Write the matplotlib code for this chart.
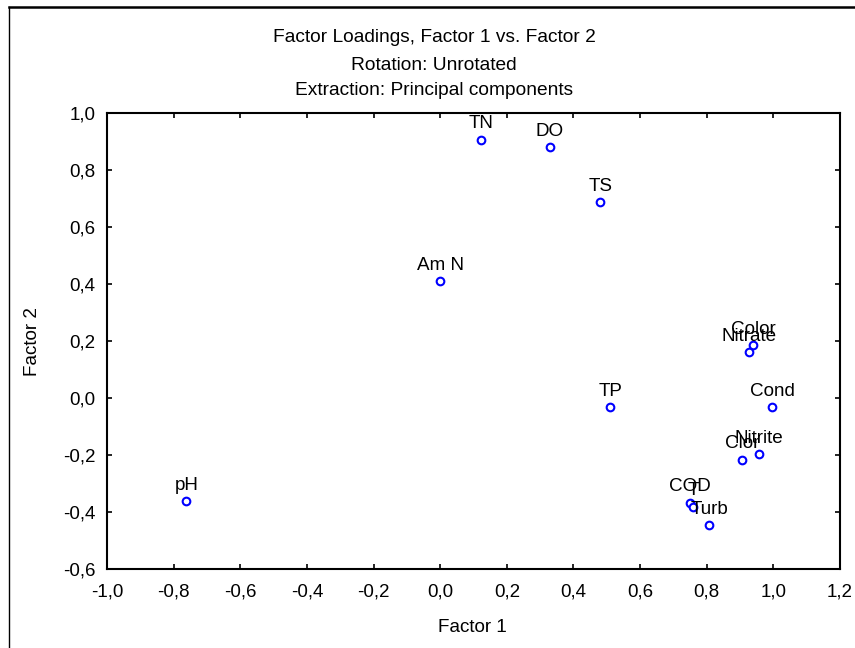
import matplotlib
matplotlib.use("Agg")
import matplotlib.pyplot as plt
from matplotlib.lines import Line2D

plt.rcParams['font.family'] = ['Liberation Sans', 'DejaVu Sans']

labels = ["TN", "DO", "TS", "Am N", "TP", "pH", "Color", "Nitrate", "Cond",
          "Nitrite", "Clor", "COD", "T", "Turb"]
factor1 = [0.124, 0.329, 0.481, 0.000, 0.510, -0.762, 0.940, 0.927, 0.996,
           0.956, 0.905, 0.750, 0.760, 0.808]
factor2 = [0.907, 0.880, 0.689, 0.411, -0.032, -0.362, 0.187, 0.160, -0.032,
           -0.196, -0.216, -0.367, -0.381, -0.446]

xticks = [-1.0, -0.8, -0.6, -0.4, -0.2, 0.0, 0.2, 0.4, 0.6, 0.8, 1.0, 1.2]
yticks = [-0.6, -0.4, -0.2, 0.0, 0.2, 0.4, 0.6, 0.8, 1.0]

W, H = 855, 648
fig = plt.figure(figsize=(W / 100, H / 100), dpi=100)
ax = fig.add_axes([107 / W, 1 - 569 / H, (840 - 107) / W, (569 - 113) / H])

ax.plot(factor1, factor2, linestyle='none', marker='o', markersize=5.5,
        markerfacecolor='white', markeredgecolor='#0000ff', markeredgewidth=1.5)
for lab, x, y in zip(labels, factor1, factor2):
    ax.annotate(lab, (x, y), xytext=(0, 8), textcoords='offset points',
                ha='center', va='baseline', fontsize=13.6, color='black')

ax.set_xlim(-1.0, 1.2)
ax.set_ylim(-0.6, 1.0)
ax.set_xticks(xticks)
ax.set_yticks(yticks)
ax.set_xticklabels([f"{t:.1f}".replace('.', ',') for t in xticks])
ax.set_yticklabels([f"{t:.1f}".replace('.', ',') for t in yticks])
ax.tick_params(direction='in', length=3.5, width=1.2, top=True, right=True,
               labelsize=13.5, pad=10.5)
ax.tick_params(axis='y', pad=8.5)
for s in ax.spines.values():
    s.set_linewidth(1.5)

tx = 434 / W
fig.text(tx, 1 - 41.7 / H, "Factor Loadings, Factor 1 vs. Factor 2",
         ha='center', va='baseline', fontsize=13.8)
fig.text(tx, 1 - 70 / H, "Rotation: Unrotated",
         ha='center', va='baseline', fontsize=13.8)
fig.text(tx, 1 - 95 / H, "Extraction: Principal components",
         ha='center', va='baseline', fontsize=13.8)
fig.text(472 / W, 1 - 627 / H, "Factor 1", ha='center', va='center', fontsize=13.6)
fig.text(32.5 / W, 1 - 341 / H, "Factor 2", ha='center', va='center',
         rotation=90, fontsize=13.6)

# figure frame (top and left edges visible)
fig.add_artist(Line2D([9.3 / W, 9.3 / W], [0, 1 - 6.7 / H], transform=fig.transFigure,
                      color='black', linewidth=1.0))
fig.add_artist(Line2D([9.3 / W, 1], [1 - 6.7 / H, 1 - 6.7 / H], transform=fig.transFigure,
                      color='black', linewidth=1.8))

fig.savefig("out.png", dpi=100)
